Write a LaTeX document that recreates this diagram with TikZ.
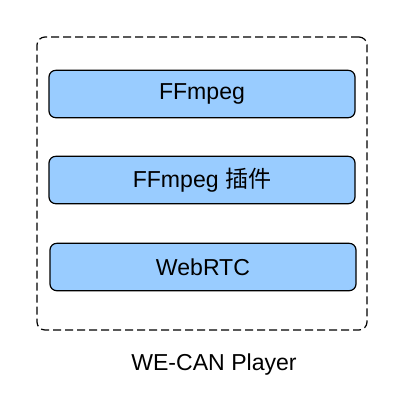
\documentclass[tikz,border=0pt]{standalone}
\usepackage{fontspec}
\setmainfont{Liberation Sans}
\newfontfamily\cjk{Noto Sans CJK SC}
\usetikzlibrary{shapes,backgrounds}
\definecolor{layerblue}{HTML}{99CCFF}

\begin{document}
\begin{tikzpicture}[x=0.75pt,y=-0.75pt,
    layer/.style={draw=black, line width=0.9pt, fill=layerblue, rounded corners=5pt,
      minimum width=229.5pt, minimum height=35.5pt, inner sep=0pt},
    frame/.style={draw=black, line width=0.9pt, dash pattern=on 6pt off 3pt,
      rounded corners=6pt, minimum width=247.5pt, minimum height=219.75pt, inner sep=0pt}]
      \useasboundingbox (0,0) rectangle (408,405);
      \node[frame] (player) at (202,183.5) {};
      \node[layer] (ffmpeg) at (202,94)
        {\fontsize{17.3}{20}\selectfont FFmpeg};
      \node[layer] (plugin) at (202,180)
        {\fontsize{17.3}{20}\selectfont FFmpeg {\cjk 插件}};
      \node[layer] (webrtc) at (203,267)
        {\fontsize{17.3}{20}\selectfont WebRTC};
      \node (playerlabel) at (214,365)
        {\fontsize{17.3}{20}\selectfont WE-CAN Player};
    \end{tikzpicture}
\end{document}
